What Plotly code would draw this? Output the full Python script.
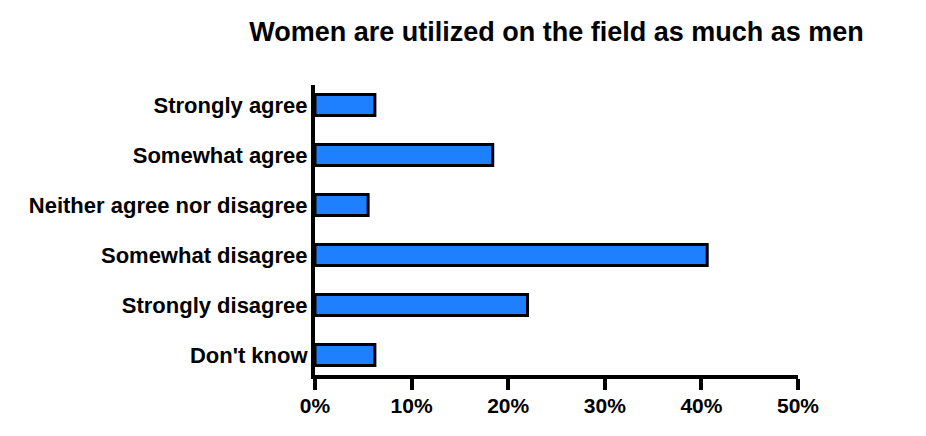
import plotly.graph_objects as go

categories = ["Strongly agree", "Somewhat agree", "Neither agree nor disagree",
              "Somewhat disagree", "Strongly disagree", "Don't know"]
values = [6.2, 18.4, 5.5, 40.6, 22.0, 6.2]
tick_vals = [0, 10, 20, 30, 40, 50]
tick_text = ["0%", "10%", "20%", "30%", "40%", "50%"]
title_text = "Women are utilized on the field as much as men"

FONT = "Arial, Liberation Sans, sans-serif"

fig = go.Figure(go.Bar(
    x=values, y=categories, orientation="h",
    marker=dict(color="#1E80FF", line=dict(color="black", width=3)),
))

fig.update_layout(
    width=926, height=436,
    margin=dict(l=315, r=128, t=85, b=61, autoexpand=False),
    paper_bgcolor="white", plot_bgcolor="white",
    bargap=0.58,
    showlegend=False,
    title=dict(text=title_text, x=0.5, xref="paper", xanchor="center",
               y=1 - 32 / 436, yref="container", yanchor="middle",
               font=dict(family=FONT, size=27, color="black", weight="bold")),
    font=dict(family=FONT, color="black"),
)

fig.update_xaxes(
    range=[0, 50], tickvals=tick_vals, ticktext=tick_text,
    showgrid=False, zeroline=False,
    showline=True, linecolor="black", linewidth=4,
    ticks="outside", ticklen=11, tickwidth=4, tickcolor="black",
    ticklabelstandoff=-2,
    tickfont=dict(family=FONT, size=21, color="black", weight="bold"),
)
fig.update_yaxes(
    categoryorder="array", categoryarray=categories[::-1],
    range=[-0.4, 5.4],
    showgrid=False, zeroline=False,
    showline=True, linecolor="black", linewidth=4,
    ticks="", ticklabelstandoff=-1,
    tickfont=dict(family=FONT, size=22, color="black", weight="bold"),
)

fig.write_html("out.html", config={"displayModeBar": False},
               post_script="document.body.style.margin='0';")
